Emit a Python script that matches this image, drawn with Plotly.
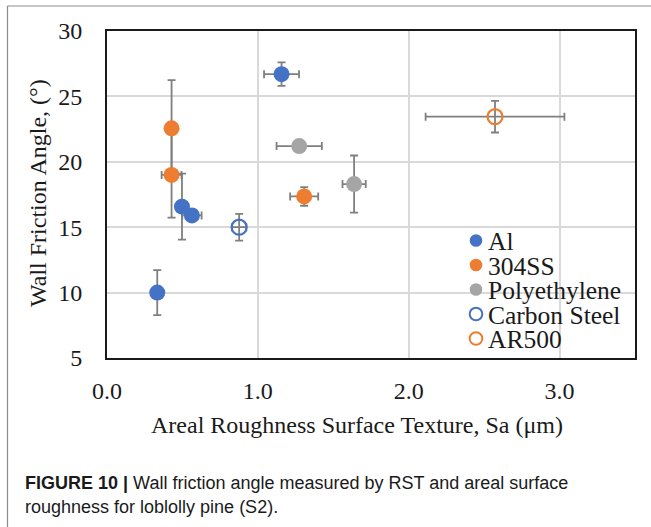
import plotly.graph_objects as go

# ---------------- data ----------------
al_x = [1.157, 0.497, 0.563, 0.333]
al_y = [26.7, 16.57, 15.9, 10.0]
al_xerr = [0.116, 0.03, 0.064, 0.03]
al_yerr = [0.9, 2.52, 0.4, 1.72]

ss_x = [0.428, 0.428, 1.307]
ss_y = [22.56, 19.0, 17.35]
ss_xerr = [0.03, 0.066, 0.093]
ss_yerr = [3.68, 3.27, 0.71]

pe_x = [1.274, 1.638]
pe_y = [21.2, 18.3]
pe_xerr = [0.15, 0.077]
pe_yerr = [0.3, 2.18]

cs_x = [0.876]
cs_y = [15.0]
cs_xerr = [0.047]
cs_yerr = [1.02]

ar_x = [2.572]
ar_y = [23.45]
ar_xerr = [0.46]
ar_yerr = [1.21]

series_names = ["Al", "304SS", "Polyethylene", "Carbon Steel", "AR500"]
x_ticks = [0.0, 1.0, 2.0, 3.0]
x_ticklabels = ["0.0", "1.0", "2.0", "3.0"]
y_ticks = [5, 10, 15, 20, 25, 30]

x_title = "Areal Roughness Surface Texture, Sa (\u03bcm)"
y_title = "Wall Friction Angle, (\u00b0)"
caption1 = "<b>FIGURE 10 |</b> Wall friction angle measured by RST and areal surface"
caption2 = "roughness for loblolly pine (S2)."

# ---------------- style ----------------
BLUE = "#4472C4"
ORANGE = "#ED7D31"
GRAY = "#A5A5A5"
ERR = "#7F7F7F"
SERIF = "Liberation Serif, Times New Roman, serif"
SANS = "Liberation Sans, Arial, sans-serif"

W, H = 651, 527
L, R, T, B = 107, 16, 31, 169
PW, PH = W - L - R, H - T - B


def px_to_paper(px, py):
    return (px - L) / PW, (H - B - py) / PH


def err(vals):
    return dict(type="data", array=vals, visible=True, color=ERR, thickness=1.8, width=4)


fig = go.Figure()
specs = [
    (al_x, al_y, al_xerr, al_yerr, BLUE, "circle"),
    (ss_x, ss_y, ss_xerr, ss_yerr, ORANGE, "circle"),
    (pe_x, pe_y, pe_xerr, pe_yerr, GRAY, "circle"),
    (cs_x, cs_y, cs_xerr, cs_yerr, BLUE, "circle-open"),
    (ar_x, ar_y, ar_xerr, ar_yerr, ORANGE, "circle-open"),
]
for name, (xs, ys, xe, ye, col, sym) in zip(series_names, specs):
    open_ = sym.endswith("open")
    fig.add_trace(go.Scatter(
        x=xs, y=ys, mode="markers", name=name, showlegend=False,
        marker=dict(symbol=sym, size=16 if not open_ else 15, color=col,
                    line=dict(width=2.2 if open_ else 0, color=col)),
        error_x=err(xe), error_y=err(ye),
    ))

# custom legend
leg_x_marker = 476
leg_x_text = 486
leg_y = [240.5, 265, 289.5, 314, 338.5]
leg_cols = [BLUE, ORANGE, GRAY, BLUE, ORANGE]
leg_open = [False, False, False, True, True]
shapes = []
annotations = []
r = 6.3
for name, cy, col, op in zip(series_names, leg_y, leg_cols, leg_open):
    x0, y0 = px_to_paper(leg_x_marker - r, cy + r)
    x1, y1 = px_to_paper(leg_x_marker + r, cy - r)
    shapes.append(dict(type="circle", xref="paper", yref="paper", x0=x0, y0=y0, x1=x1, y1=y1,
                       fillcolor="rgba(0,0,0,0)" if op else col,
                       line=dict(color=col, width=2 if op else 0)))
    tx, ty = px_to_paper(leg_x_text, cy + 1)
    annotations.append(dict(text=name, xref="paper", yref="paper", x=tx, y=ty,
                            xanchor="left", yanchor="middle", showarrow=False,
                            font=dict(family=SERIF, size=25.5, color="#1a1a1a")))

# frame lines (figure box)
fx0, fy0 = px_to_paper(7.5, 6)
fx1, fy1 = px_to_paper(651, 527)
shapes.append(dict(type="line", xref="paper", yref="paper", x0=fx0, y0=fy0, x1=fx1, y1=fy0,
                   line=dict(color="#8C8C8C", width=1.2)))
shapes.append(dict(type="line", xref="paper", yref="paper", x0=fx0, y0=fy0, x1=fx0, y1=fy1,
                   line=dict(color="#8C8C8C", width=1.2)))

# axis titles
tx, ty = px_to_paper(357, 425)
annotations.append(dict(text=x_title, xref="paper", yref="paper", x=tx, y=ty,
                        xanchor="center", yanchor="middle", showarrow=False,
                        font=dict(family=SERIF, size=24, color="#1a1a1a")))
tx, ty = px_to_paper(38, 193)
annotations.append(dict(text=y_title, xref="paper", yref="paper", x=tx, y=ty, textangle=-90,
                        xanchor="center", yanchor="middle", showarrow=False,
                        font=dict(family=SERIF, size=24, color="#1a1a1a")))
# caption
tx, ty = px_to_paper(23, 483)
annotations.append(dict(text=caption1, xref="paper", yref="paper", x=tx, y=ty,
                        xanchor="left", yanchor="middle", showarrow=False,
                        font=dict(family=SANS, size=18, color="#1a1a1a")))
tx, ty = px_to_paper(23, 507)
annotations.append(dict(text=caption2, xref="paper", yref="paper", x=tx, y=ty,
                        xanchor="left", yanchor="middle", showarrow=False,
                        font=dict(family=SANS, size=18, color="#1a1a1a")))

fig.update_layout(
    width=W, height=H,
    margin=dict(l=L, r=R, t=T, b=B),
    paper_bgcolor="white", plot_bgcolor="white",
    shapes=shapes, annotations=annotations,
    showlegend=False,
)
fig.update_xaxes(range=[0, 3.5], tickvals=x_ticks, ticktext=x_ticklabels,
                 showgrid=True, gridcolor="#D9D9D9", gridwidth=1.5,
                 showline=True, mirror=True, linecolor="#1a1a1a", linewidth=2,
                 zeroline=False, ticks="", ticklabelstandoff=10,
                 tickfont=dict(family=SERIF, size=24, color="#1a1a1a"))
fig.update_yaxes(range=[5, 30], tickvals=y_ticks,
                 showgrid=True, gridcolor="#D9D9D9", gridwidth=1.5,
                 showline=True, mirror=True, linecolor="#1a1a1a", linewidth=2,
                 zeroline=False, ticks="", ticklabelstandoff=18,
                 tickfont=dict(family=SERIF, size=24, color="#1a1a1a"))

fig.write_html("out.html")
